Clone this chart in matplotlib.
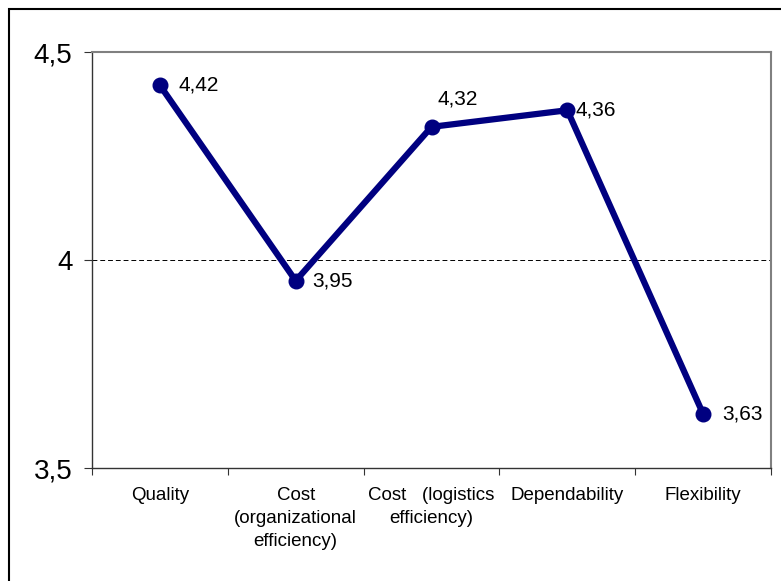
import matplotlib.pyplot as plt
from matplotlib.patches import Rectangle

# Data
categories = ['Quality', 'Cost\n(organizational\nefficiency)', 'Cost   (logistics\nefficiency)',
              'Dependability', 'Flexibility']
values = [4.42, 3.95, 4.32, 4.36, 3.63]
value_labels = ['4,42', '3,95', '4,32', '4,36', '3,63']
y_ticks = [3.5, 4.0, 4.5]
y_tick_labels = ['3,5', '4', '4,5']

plt.rcParams['font.family'] = ['Liberation Sans', 'DejaVu Sans']

fig = plt.figure(figsize=(7.81, 5.81), dpi=100)
ax = fig.add_axes([92 / 781, 1 - 468 / 581, (771 - 92) / 781, (468 - 52) / 581])

# outer frame of the figure (only top and left visible in the reference)
fig.patches.append(Rectangle((9 / 781, -0.1), 1.2, 1 - 9 / 581 + 0.1, transform=fig.transFigure,
                             fill=False, edgecolor='black', linewidth=1.5, clip_on=False))

x = list(range(len(categories)))
ax.plot(x, values, color='#000080', linewidth=4.5, marker='o', markersize=10.5,
        solid_capstyle='round', zorder=3)

# value labels
offsets = [(13.5, 0, 'left', 'center'), (12, 0, 'left', 'center'), (4, 20, 'left', 'center'),
           (6, 0, 'left', 'center'), (13.5, 0, 'left', 'center')]
for xi, v, lab, (dx, dy, ha, va) in zip(x, values, value_labels, offsets):
    ax.annotate(lab, (xi, v), xytext=(dx, dy), textcoords='offset points',
                ha=ha, va=va, fontsize=15)

ax.axhline(4.0, color='black', linestyle=(0, (5, 3)), linewidth=0.7, zorder=1)

ax.set_xlim(-0.5, len(categories) - 0.5)
ax.set_ylim(3.5, 4.5)
ax.set_yticks(y_ticks)
ax.set_yticklabels(y_tick_labels, fontsize=20)

# category labels between boundary ticks
ax.set_xticks([i - 0.5 for i in range(len(categories) + 1)])
ax.set_xticklabels([])
ax.set_xticks(x, minor=True)
ax.set_xticklabels(categories, minor=True, fontsize=13.5, linespacing=1.45)
ax.tick_params(axis='x', which='minor', length=0, pad=14)
ax.tick_params(axis='x', which='major', direction='out', length=5, color='#333333')
ax.tick_params(axis='y', direction='out', length=6, pad=8, color='#333333')

for s in ['top', 'right']:
    ax.spines[s].set_color('#808080')
    ax.spines[s].set_linewidth(1.5)
for s in ['left', 'bottom']:
    ax.spines[s].set_color('#333333')
    ax.spines[s].set_linewidth(1.0)

fig.savefig('out.png', dpi=100)
